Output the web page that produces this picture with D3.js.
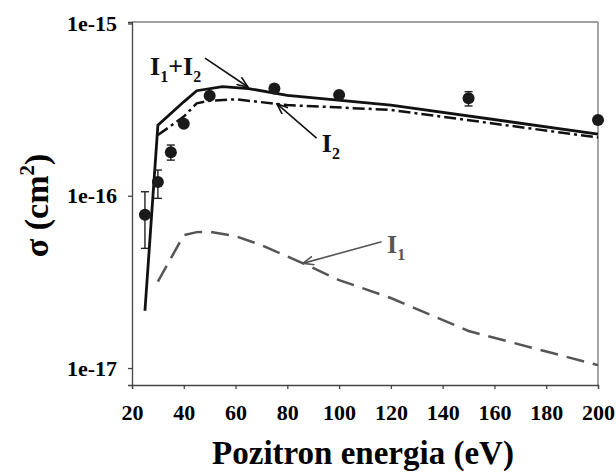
<!DOCTYPE html>
<html>
<head>
<meta charset="utf-8">
<script src="https://cdn.jsdelivr.net/npm/d3@7"></script>
<style>
  body { margin: 0; background: #fff; }
  text { font-family: "Liberation Serif", "Times New Roman", serif; font-weight: bold; }
</style>
</head>
<body>
<svg id="chart" width="616" height="475"></svg>
<script>
// measured points
const expX = [25, 30, 35, 40, 50, 75, 100, 150, 200];
const expY = [7.76e-17, 1.20e-16, 1.79e-16, 2.62e-16, 3.81e-16, 4.20e-16, 3.84e-16, 3.68e-16, 2.75e-16];
const expLo = [4.95e-17, 9.66e-17, 1.61e-16, null, null, null, null, 3.32e-16, null];
const expHi = [1.055e-16, 1.41e-16, 1.97e-16, null, null, null, null, 4.02e-16, null];

// I1+I2 (solid)
const sumX = [25, 30, 40, 45, 55, 65, 80, 120, 200];
const sumY = [2.15e-17, 2.57e-16, 3.51e-16, 4.07e-16, 4.30e-16, 4.19e-16, 3.82e-16, 3.36e-16, 2.28e-16];

// I2 (dash-dot)
const i2X = [30, 40, 45, 50, 60, 80, 120, 200];
const i2Y = [2.25e-16, 2.88e-16, 3.44e-16, 3.56e-16, 3.63e-16, 3.36e-16, 3.15e-16, 2.18e-16];

// I1 (dashed)
const i1X = [30, 40, 45, 50, 60, 70, 85, 100, 120, 150, 200];
const i1Y = [3.17e-17, 5.91e-17, 6.15e-17, 6.18e-17, 5.83e-17, 5.17e-17, 4.12e-17, 3.24e-17, 2.55e-17, 1.64e-17, 1.04e-17];

const xTicks = [20, 40, 60, 80, 100, 120, 140, 160, 180, 200];
const yTicks = [1e-17, 1e-16, 1e-15];
const yTickLabels = ['1e-17', '1e-16', '1e-15'];

const serif = '"Liberation Serif", "Times New Roman", serif';

const svg = d3.select('#chart');
const width = +svg.attr('width');
const height = +svg.attr('height');
const margin = { top: 22, right: 18, bottom: 90, left: 132 };
const innerWidth = width - margin.left - margin.right;
const innerHeight = height - margin.top - margin.bottom;

const xScale = d3.scaleLinear().domain([20, 200]).range([0, innerWidth]);
const yScale = d3.scaleLog().domain([7.97e-18, 1.02e-15]).range([innerHeight, 0]);

const g = svg.append('g').attr('transform', `translate(${margin.left},${margin.top})`);

// frame top/right
g.append('line').attr('x1', 0).attr('x2', innerWidth).attr('y1', 0).attr('y2', 0)
  .attr('stroke', '#444').attr('stroke-width', 1.2);
g.append('line').attr('x1', innerWidth).attr('x2', innerWidth).attr('y1', 0).attr('y2', innerHeight)
  .attr('stroke', '#888').attr('stroke-width', 1.5);

const xAxis = d3.axisBottom(xScale).tickValues(xTicks).tickSize(4).tickPadding(15).tickFormat(d3.format('d'));
const xAxisG = g.append('g').attr('transform', `translate(0,${innerHeight})`).call(xAxis);

const yAxis = d3.axisLeft(yScale).tickValues(yTicks).tickSize(4).tickPadding(11)
  .tickFormat((d, i) => yTickLabels[i]);
const yAxisG = g.append('g').call(yAxis);

[xAxisG, yAxisG].forEach(a => {
  a.attr('font-family', serif).attr('font-size', 22);
  a.selectAll('text').attr('fill', '#000')
    .style('font-family', serif).style('font-size', '22px').style('font-weight', 'bold');
  a.select('.domain').attr('stroke', '#444').attr('stroke-width', 1.3);
  a.selectAll('.tick line').attr('stroke', '#444').attr('stroke-width', 1.3);
});

const toPts = (xs, ys) => xs.map((x, i) => [x, ys[i]]);
const line = d3.line().x(d => xScale(d[0])).y(d => yScale(d[1]));

g.append('path').datum(toPts(i1X, i1Y)).attr('d', line)
  .attr('fill', 'none').attr('stroke', '#555').attr('stroke-width', 2.5)
  .attr('stroke-dasharray', '18,9');

g.append('path').datum(toPts(i2X, i2Y)).attr('d', line)
  .attr('fill', 'none').attr('stroke', '#111').attr('stroke-width', 2.5)
  .attr('stroke-dasharray', '12,4,3,4');

g.append('path').datum(toPts(sumX, sumY)).attr('d', line)
  .attr('fill', 'none').attr('stroke', '#111').attr('stroke-width', 2.8)
  .attr('stroke-linejoin', 'miter');

// error bars
const errs = expX.map((x, i) => ({ x, lo: expLo[i], hi: expHi[i] })).filter(d => d.lo !== null);
const eb = g.selectAll('.err').data(errs).enter().append('g').attr('class', 'err')
  .attr('stroke', '#222').attr('stroke-width', 1.4);
eb.append('line').attr('x1', d => xScale(d.x)).attr('x2', d => xScale(d.x))
  .attr('y1', d => yScale(d.lo)).attr('y2', d => yScale(d.hi));
eb.append('line').attr('x1', d => xScale(d.x) - 4).attr('x2', d => xScale(d.x) + 4)
  .attr('y1', d => yScale(d.lo)).attr('y2', d => yScale(d.lo));
eb.append('line').attr('x1', d => xScale(d.x) - 4).attr('x2', d => xScale(d.x) + 4)
  .attr('y1', d => yScale(d.hi)).attr('y2', d => yScale(d.hi));

g.selectAll('circle').data(toPts(expX, expY)).enter().append('circle')
  .attr('cx', d => xScale(d[0])).attr('cy', d => yScale(d[1]))
  .attr('r', 6).attr('fill', '#1a1a1a');

// arrow markers
const defs = svg.append('defs');
[['arrowK', '#111'], ['arrowG', '#555']].forEach(([id, c]) => {
  defs.append('marker').attr('id', id).attr('viewBox', '0 0 12 10')
    .attr('refX', 11).attr('refY', 5).attr('markerWidth', 12).attr('markerHeight', 10)
    .attr('markerUnits', 'userSpaceOnUse').attr('orient', 'auto')
    .append('path').attr('d', 'M0,0.5 L11,5 L0,9.5').attr('fill', 'none')
    .attr('stroke', c).attr('stroke-width', 1.6);
});

// annotations (data coordinates)
const notes = [
  { main: 'I', sub: '1', extra: '+I', sub2: '2', lx: 27, ly: 5.0e-16, from: [48.2, 6.3e-16], to: [64.8, 4.28e-16], color: '#111', marker: 'arrowK' },
  { main: 'I', sub: '2', lx: 93.3, ly: 1.79e-16, from: [91.3, 2.16e-16], to: [76, 3.41e-16], color: '#111', marker: 'arrowK' },
  { main: 'I', sub: '1', lx: 118.5, ly: 4.65e-17, from: [116.4, 5.41e-17], to: [86, 4.05e-17], color: '#555', marker: 'arrowG' }
];
notes.forEach(n => {
  g.append('line').attr('x1', xScale(n.from[0])).attr('y1', yScale(n.from[1]))
    .attr('x2', xScale(n.to[0])).attr('y2', yScale(n.to[1]))
    .attr('stroke', n.color).attr('stroke-width', 1.6).attr('marker-end', `url(#${n.marker})`);
  const t = g.append('text').attr('x', xScale(n.lx)).attr('y', yScale(n.ly))
    .attr('font-size', 26).attr('fill', n.color);
  t.append('tspan').text(n.main);
  t.append('tspan').attr('font-size', 16).attr('dy', 7).text(n.sub);
  if (n.extra) {
    t.append('tspan').attr('font-size', 26).attr('dy', -7).text(n.extra);
    t.append('tspan').attr('font-size', 16).attr('dy', 7).text(n.sub2);
  }
});

// axis titles
svg.append('text').attr('x', margin.left + innerWidth / 2 - 2).attr('y', 464)
  .attr('text-anchor', 'middle').attr('font-size', 33).attr('fill', '#000')
  .text('Pozitron energia (eV)');

const yt = svg.append('text').attr('transform', `translate(48,${margin.top + innerHeight / 2 + 2}) rotate(-90)`)
  .attr('text-anchor', 'middle').attr('font-size', 34).attr('fill', '#000');
yt.append('tspan').text('σ (cm');
yt.append('tspan').attr('font-size', 21).attr('dy', -14).text('2');
yt.append('tspan').attr('dy', 14).text(')');
</script>
</body>
</html>
